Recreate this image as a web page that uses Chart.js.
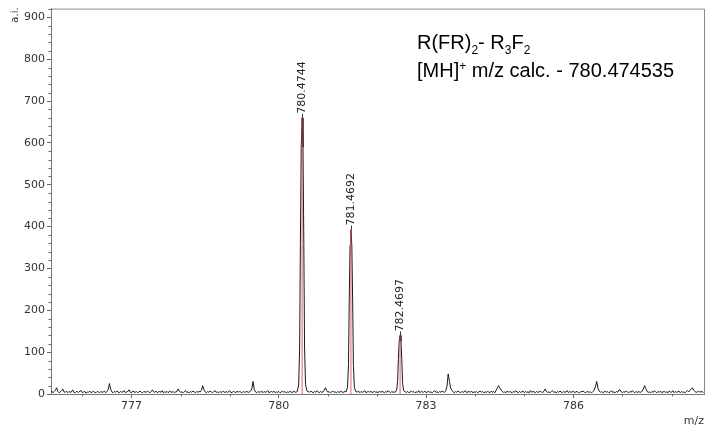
<!DOCTYPE html>
<html><head><meta charset="utf-8">
<script src="https://cdn.jsdelivr.net/npm/chart.js@4"></script>
<style>html,body{margin:0;padding:0;background:#fff}#wrap{width:710px;height:432px;position:relative}</style>
</head><body><div id="wrap"><canvas id="c" width="710" height="432"></canvas></div>
<script>
// sampling grid of the baseline (m/z)
const mzStart = 775.35;
const mzStep = 0.025;
// baseline intensities (a.i.), one row per 1 m/z
const baseline = [
 4,7,3,6,9,15,6,3,5,8,12,5,4,7,3,6,4,5,10,4,3,6,5,4,7,8,3,5,6,2,5,4,7,3,5,6,4,3,6,5,
 3,6,4,5,7,3,6,11,25,12,5,3,6,4,7,5,3,6,4,5,8,3,5,6,10,4,3,7,5,4,6,3,5,7,4,3,6,5,4,7,
 5,3,6,10,5,4,7,3,5,6,4,8,3,5,4,6,3,7,5,4,6,3,5,6,12,7,4,5,3,6,8,4,5,3,6,4,7,5,3,6,
 4,6,5,9,20,10,5,3,6,4,7,5,3,6,8,4,5,3,6,4,5,7,3,6,4,5,8,3,4,6,5,3,7,4,6,5,3,6,4,5,
 6,4,5,7,12,30,11,5,3,6,4,5,7,3,6,4,5,8,3,5,6,4,7,3,5,4,6,3,5,7,4,6,3,5,4,6,5,3,7,5,
 4,6,5,5,5,5,5,5,5,5,6,4,7,5,3,6,4,8,5,3,6,4,5,9,15,8,4,6,3,5,7,4,5,3,6,4,5,7,3,5,
 6,4,5,5,5,5,5,5,5,5,5,7,3,6,4,5,8,3,5,6,4,7,3,5,6,4,5,3,7,4,6,5,3,6,4,8,5,3,6,4,
 5,7,5,5,5,5,5,5,5,5,4,6,3,5,7,4,6,3,5,4,8,3,6,5,4,7,3,5,6,4,5,3,6,8,4,5,3,6,4,7,
 5,4,8,18,48,30,14,9,5,3,6,4,7,5,3,6,4,5,8,3,5,6,4,7,3,5,4,6,3,5,7,4,6,3,5,4,6,5,3,7,
 4,6,3,9,14,20,15,10,6,4,5,3,7,4,6,5,3,6,4,8,5,3,6,4,5,7,3,6,4,5,3,8,4,6,5,3,6,4,5,6,
 5,3,7,12,6,4,5,3,6,8,4,5,3,6,4,7,5,3,6,4,5,8,3,6,4,5,7,3,5,6,4,3,6,5,7,4,3,6,5,4,
 5,3,6,10,18,30,14,7,4,6,3,5,7,4,6,3,5,8,4,5,3,6,4,9,10,5,3,6,4,7,5,3,6,4,8,5,3,6,4,5,
 5,4,7,12,20,13,6,4,5,3,6,4,8,5,3,6,4,7,3,5,6,4,5,3,7,5,4,8,3,6,4,5,7,3,6,4,5,3,6,8,
 5,9,12,15,9,6,4,5,7,4,6,5,4
];
// isotope peaks
const peakMz = [780.4744, 781.4692, 782.4697];
const peakLabels = ['780.4744', '781.4692', '782.4697'];
const peakHeights = [660, 393, 140];
const peakOffsets = [-0.1, -0.07, -0.05, -0.035, -0.018, 0, 0.018, 0.035, 0.05, 0.07, 0.1];
const peakProfile1 = [6, 22, 110, 360, 590, 660, 590, 360, 110, 22, 7];
const peakProfile2 = [5, 16, 70, 220, 355, 393, 355, 220, 68, 15, 6];
const peakProfile3 = [4, 9, 30, 82, 126, 140, 126, 82, 28, 9, 5];
const xTicks = [777, 780, 783, 786];
const xMinorTicks = [776, 778, 779, 781, 782, 784, 785, 787, 788];
const yTicks = [0, 100, 200, 300, 400, 500, 600, 700, 800, 900];
const yMinorStep = 20;

const profiles = [peakProfile1, peakProfile2, peakProfile3];
const spectrum = [];
baseline.forEach((v, i) => {
  const mz = mzStart + i * mzStep;
  if (peakMz.every(p => Math.abs(mz - p) > 0.105)) spectrum.push({x: mz, y: v});
});
peakMz.forEach((p, k) => {
  peakOffsets.forEach((o, j) => spectrum.push({x: p + o, y: profiles[k][j]}));
});
spectrum.sort((a, b) => a.x - b.x);

const sticks = peakMz.map((p, k) => ({
  type: 'scatter', showLine: true, data: [{x: p, y: 0}, {x: p, y: peakHeights[k]}],
  borderColor: 'rgba(228,70,82,0.85)', borderWidth: 1, pointRadius: 0, order: 0
}));

const FONT = '"DejaVu Sans", Verdana, sans-serif';

const deco = {
  id: 'deco',
  afterDraw(chart) {
    const ctx = chart.ctx, ca = chart.chartArea;
    const xs = chart.scales.x, ys = chart.scales.y;
    ctx.save();
    // frame top/right
    ctx.strokeStyle = '#8a8a8a'; ctx.lineWidth = 1;
    ctx.beginPath();
    ctx.moveTo(ca.left, ca.top + 0.5); ctx.lineTo(ca.right + 0.5, ca.top + 0.5); ctx.lineTo(ca.right + 0.5, ca.bottom);
    ctx.stroke();
    // minor ticks
    ctx.strokeStyle = '#666';
    ctx.beginPath();
    for (let v = 0; v <= 920; v += yMinorStep) {
      if (v % 100 === 0) continue;
      const py = Math.round(ys.getPixelForValue(v)) + 0.5;
      ctx.moveTo(ca.left - 2.5, py); ctx.lineTo(ca.left, py);
    }
    xMinorTicks.forEach(v => {
      const px = Math.round(xs.getPixelForValue(v)) + 0.5;
      ctx.moveTo(px, ca.bottom); ctx.lineTo(px, ca.bottom + 2.5);
    });
    ctx.stroke();
    // peak labels
    ctx.fillStyle = '#222'; ctx.strokeStyle = '#333';
    ctx.font = '11px ' + FONT;
    peakMz.forEach((p, k) => {
      const px = xs.getPixelForValue(p), py = ys.getPixelForValue(peakHeights[k]);
      ctx.beginPath(); ctx.moveTo(Math.round(px) + 0.5, py); ctx.lineTo(Math.round(px) + 0.5, py - 4); ctx.stroke();
      ctx.save();
      ctx.translate(px + 0.5, py - 4);
      ctx.rotate(-Math.PI / 2);
      ctx.textAlign = 'left'; ctx.textBaseline = 'middle';
      ctx.fillText(peakLabels[k], 0, 0);
      ctx.restore();
    });
    // axis titles
    ctx.fillStyle = '#333';
    ctx.font = '10px ' + FONT;
    ctx.save(); ctx.translate(15, 15); ctx.rotate(-Math.PI / 2);
    ctx.textAlign = 'center'; ctx.textBaseline = 'middle'; ctx.fillText('a.i.', 0, 0); ctx.restore();
    ctx.font = '11px ' + FONT;
    ctx.textAlign = 'right'; ctx.textBaseline = 'middle';
    ctx.fillText('m/z', 704, 421);
    // annotation
    const big = '20px "Liberation Sans", Arial, Helvetica, sans-serif';
    const small = '12px "Liberation Sans", Arial, Helvetica, sans-serif';
    ctx.fillStyle = '#000'; ctx.textAlign = 'left'; ctx.textBaseline = 'alphabetic';
    let x = 417, y = 49;
    const put = (t, f, dy) => { ctx.font = f; ctx.fillText(t, x, y + dy); x += ctx.measureText(t).width; };
    put('R(FR)', big, 0); put('2', small, 5); put('- R', big, 0); put('3', small, 5); put('F', big, 0); put('2', small, 5);
    x = 417; y = 77;
    put('[MH]', big, 0); put('+', small, -7); put(' m/z calc. - 780.474535', big, 0);
    ctx.restore();
  }
};

new Chart(document.getElementById('c'), {
  type: 'scatter',
  data: {
    datasets: [
      {type: 'scatter', showLine: true, data: spectrum, borderColor: '#1a1a1a', borderWidth: 1, pointRadius: 0, order: 1},
      ...sticks
    ]
  },
  options: {
    responsive: false, animation: false,
    layout: {padding: {left: 0, top: 7, right: 6, bottom: 0}},
    plugins: {legend: {display: false}, tooltip: {enabled: false}},
    scales: {
      x: {
        type: 'linear', min: 775.36, max: 788.66,
        afterBuildTicks: s => { s.ticks = xTicks.map(v => ({value: v})); },
        afterFit: s => { s.height = 38; },
        ticks: {font: {family: FONT, size: 11}, color: '#333', padding: 2, maxRotation: 0, callback: v => String(v)},
        grid: {drawOnChartArea: false, drawTicks: true, tickLength: 4, color: '#666'},
        border: {display: true, color: '#777'}
      },
      y: {
        type: 'linear', min: 0, max: 921,
        afterBuildTicks: s => { s.ticks = yTicks.map(v => ({value: v})); },
        afterFit: s => { s.width = 51; },
        ticks: {font: {family: FONT, size: 11}, color: '#333', padding: 2, callback: v => String(v)},
        grid: {drawOnChartArea: false, drawTicks: true, tickLength: 4, color: '#666'},
        border: {display: true, color: '#777'}
      }
    }
  },
  plugins: [deco]
});
</script>
</body></html>
